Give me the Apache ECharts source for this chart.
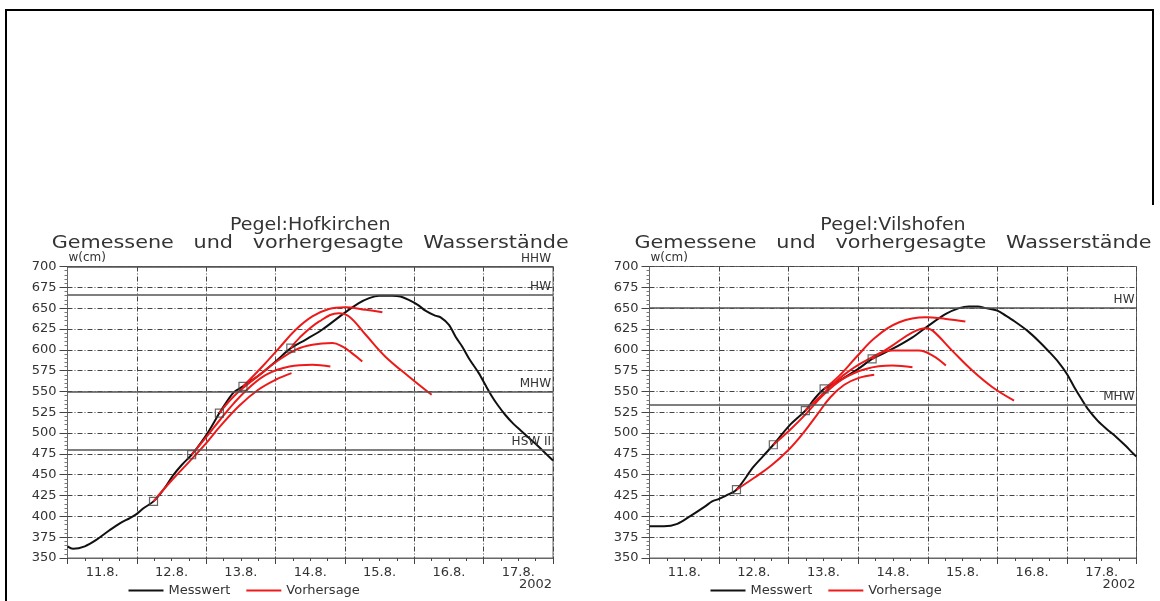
<!DOCTYPE html>
<html><head><meta charset="utf-8">
<script src="https://cdn.jsdelivr.net/npm/echarts@6/dist/echarts.min.js"></script>
<style>html,body{margin:0;padding:0;background:#fff}#c{width:1160px;height:601px}</style>
</head><body><div id="c"></div>
<script>
// ---------------- DATA ----------------
const dayLabels = ['11.8.', '12.8.', '13.8.', '14.8.', '15.8.', '16.8.', '17.8.'];
const yMin = 350, yMax = 700, yStep = 25;
const yearLabel = '2002';
const legendNames = ['Messwert', 'Vorhersage'];
const stationNames = ['Pegel:Hofkirchen', 'Pegel:Vilshofen'];
const subtitleText = 'Gemessene   und   vorhergesagte   Wasserstände';
const yAxisName = 'w(cm)';

// time in days since 11.8. 00:00, water level in cm
const hofMesswert = [[0,364],[0.08,361],[0.25,364],[0.42,372],[0.6,383],[0.76,392],[0.9,398],[1.0,403],[1.1,410],[1.24,418],[1.4,434],[1.52,449],[1.65,462],[1.79,474],[1.92,488],[2.05,504],[2.19,524],[2.29,537],[2.4,549],[2.53,556],[2.65,563],[2.77,570],[3.0,586],[3.22,602],[3.43,612],[3.67,624],[3.99,644],[4.2,656],[4.35,662],[4.49,665],[4.68,665],[4.8,664],[4.92,660],[5.05,654],[5.16,647],[5.3,641],[5.38,639],[5.5,630],[5.6,615],[5.69,604],[5.8,588],[5.93,572],[6.03,557],[6.12,544],[6.2,534],[6.31,522],[6.43,511],[6.55,502],[6.67,493],[6.79,484],[6.9,475],[7.0,467]];
const hofVorhersage1 = [[1.24,418],[1.5,443],[1.76,466],[2.0,488],[2.2,508],[2.48,533],[2.75,552],[3.0,564],[3.23,572]];
const hofVorhersage2 = [[1.79,474],[2.0,495],[2.2,516],[2.4,536],[2.6,553],[2.86,570],[3.2,580],[3.53,582],[3.79,580]];
const hofVorhersage3 = [[2.19,524],[2.35,540],[2.5,552],[2.8,572],[3.0,585],[3.29,600],[3.53,606],[3.82,608],[3.96,604],[4.1,596],[4.25,586]];
const hofVorhersage4 = [[2.53,556],[2.81,580],[3.05,602],[3.29,624],[3.53,640],[3.77,649],[4.0,651],[4.3,648],[4.54,645]];
const hofVorhersage5 = [[3.22,602],[3.34,614],[3.63,634],[3.91,644],[4.06,640],[4.3,618],[4.58,592],[4.92,568],[5.25,546]];
const hofRefNames = ['HHW', 'HW', 'MHW', 'HSW II'];
const hofRefValues = [700, 666, 550, 480];

const vilMesswert = [[0,388],[0.21,388],[0.4,391],[0.58,400],[0.8,412],[0.9,418],[1.0,421],[1.1,425],[1.25,432],[1.49,459],[1.63,472],[1.78,486],[2.01,509],[2.24,527],[2.37,541],[2.51,553],[2.73,563],[3.0,577],[3.2,589],[3.49,601],[3.78,615],[4.01,629],[4.26,643],[4.45,650],[4.59,652],[4.72,652],[4.83,650],[5.0,647],[5.12,641],[5.25,634],[5.43,623],[5.6,610],[5.74,598],[5.88,585],[6.0,571],[6.1,556],[6.2,542],[6.3,529],[6.44,515],[6.57,505],[6.7,496],[6.84,485],[6.97,474],[7.0,472]];
const vilVorhersage1 = [[1.25,432],[1.5,446],[1.75,461],[2.0,480],[2.2,499],[2.4,521],[2.6,543],[2.8,558],[3.0,566],[3.23,570]];
const vilVorhersage2 = [[1.78,486],[2.01,503],[2.25,523],[2.49,545],[2.78,565],[3.11,577],[3.49,581],[3.78,579]];
const vilVorhersage3 = [[2.24,527],[2.49,547],[2.78,569],[3.11,587],[3.49,599],[3.87,599],[4.07,593],[4.26,581]];
const vilVorhersage4 = [[2.51,553],[2.73,569],[2.97,591],[3.25,615],[3.59,633],[3.97,639],[4.26,637],[4.54,634]];
const vilVorhersage5 = [[3.2,589],[3.49,605],[3.78,621],[3.97,626],[4.07,623],[4.35,599],[4.64,575],[4.93,555],[5.24,539]];
const vilRefNames = ['HW', 'MHW'];
const vilRefValues = [650, 534];

// ---------------- LAYOUT / STYLE ----------------
const FONT = 'DejaVu Sans';
const TXT = '#333';
const GRID_TOP = 266.5, GRID_H = 291.5;
const panels = [
  { left: 67.5, width: 485.5, mess: hofMesswert,
    fc: [hofVorhersage1, hofVorhersage2, hofVorhersage3, hofVorhersage4, hofVorhersage5],
    refN: hofRefNames, refV: hofRefValues, title: stationNames[0] },
  { left: 649.5, width: 487, mess: vilMesswert,
    fc: [vilVorhersage1, vilVorhersage2, vilVorhersage3, vilVorhersage4, vilVorhersage5],
    refN: vilRefNames, refV: vilRefValues, title: stationNames[1] }
];
const GRIDLINE = { color: '#444', width: 1, type: [5, 2, 1, 2] };

const grid = [], xAxis = [], yAxis = [], series = [], legend = [], graphic = [];
panels.forEach((p, i) => {
  grid.push({ left: p.left, top: GRID_TOP, width: p.width, height: GRID_H,
    show: true, borderColor: '#666', borderWidth: 1, backgroundColor: 'transparent' });
  xAxis.push({ type: 'value', gridIndex: i, min: 0, max: dayLabels.length, interval: 1,
    position: 'bottom',
    axisLine: { onZero: false, lineStyle: { color: '#666' } },
    axisTick: { show: true, length: 6, lineStyle: { color: '#444' } },
    minorTick: { show: true, splitNumber: 4, length: 3, lineStyle: { color: '#444' } },
    axisLabel: { show: false },
    splitLine: { show: true, lineStyle: GRIDLINE } });
  xAxis.push({ type: 'category', gridIndex: i, data: dayLabels, boundaryGap: true,
    position: 'bottom',
    axisLine: { show: false, onZero: false }, axisTick: { show: false }, splitLine: { show: false },
    axisLabel: { interval: 0, margin: 8, fontFamily: FONT, fontSize: 13, color: TXT } });
  yAxis.push({ type: 'value', gridIndex: i, min: yMin, max: yMax, interval: yStep,
    name: yAxisName, nameLocation: 'end', nameGap: 3,
    nameTextStyle: { align: 'left', fontFamily: FONT, fontSize: 12, color: TXT, padding: [0, 0, 0, 1] },
    axisLine: { show: true, lineStyle: { color: '#666' } },
    axisTick: { show: true, length: 8, lineStyle: { color: '#444' } },
    minorTick: { show: true, splitNumber: 5, length: 3, lineStyle: { color: '#777' } },
    axisLabel: { margin: 11, fontFamily: FONT, fontSize: 13, color: TXT },
    splitLine: { show: true, lineStyle: GRIDLINE } });

  series.push({ name: legendNames[0], type: 'line', xAxisIndex: i * 2, yAxisIndex: i,
    data: p.mess, symbol: 'none', smooth: 0.3, z: 3,
    lineStyle: { color: '#111', width: 2 }, itemStyle: { color: '#111' },
    markLine: { silent: true, symbol: 'none', animation: false,
      lineStyle: { color: '#555', width: 1.5, type: 'solid' },
      label: { position: 'insideEndTop', formatter: '{b}', color: TXT, fontFamily: FONT, fontSize: 12, distance: [2, 2] },
      data: p.refN.map((n, k) => ({ name: n, yAxis: p.refV[k] })) } });
  p.fc.forEach(f => {
    series.push({ name: legendNames[1], type: 'line', xAxisIndex: i * 2, yAxisIndex: i,
      data: f, symbol: 'none', smooth: 0.4, z: 4,
      lineStyle: { color: '#ee1a1a', width: 2 }, itemStyle: { color: '#ee1a1a' } });
  });
  series.push({ name: 'Start', type: 'scatter', xAxisIndex: i * 2, yAxisIndex: i,
    data: p.fc.map(f => f[0]), symbol: 'rect', symbolSize: 8, z: 5,
    itemStyle: { color: 'rgba(255,255,255,0)', borderColor: '#444', borderWidth: 1.2 } });

  legend.push({ data: legendNames, left: p.left + 56, top: 579, itemWidth: 35, itemHeight: 14,
    itemGap: 16, selectedMode: false, icon: 'path://M0,6 L35,6 L35,8 L0,8 Z',
    textStyle: { fontFamily: FONT, fontSize: 13, color: TXT } });

  const cx = p.left + p.width / 2;
  graphic.push({ type: 'text', x: cx, y: 226, scaleX: 1.12,
    style: { text: p.title, x: 0, y: 0, textAlign: 'center', textVerticalAlign: 'middle',
      font: '17px "' + FONT + '"', fill: TXT } });
  graphic.push({ type: 'text', x: cx, y: 244, scaleX: 1.22,
    style: { text: subtitleText, x: 0, y: 0, textAlign: 'center', textVerticalAlign: 'middle',
      font: '17px "' + FONT + '"', fill: TXT } });
  graphic.push({ type: 'text', x: p.left + p.width - 1, y: 585,
    style: { text: yearLabel, x: 0, y: 0, textAlign: 'right', textVerticalAlign: 'middle',
      font: '13px "' + FONT + '"', fill: TXT } });
});
// page frame
graphic.push({ type: 'line', shape: { x1: 6, y1: 10, x2: 6, y2: 601 }, style: { stroke: '#000', lineWidth: 2 } });
graphic.push({ type: 'line', shape: { x1: 5, y1: 10, x2: 1153, y2: 10 }, style: { stroke: '#000', lineWidth: 2 } });
graphic.push({ type: 'line', shape: { x1: 1153, y1: 9, x2: 1153, y2: 205 }, style: { stroke: '#000', lineWidth: 2 } });

const chart = echarts.init(document.getElementById('c'), null, { renderer: 'canvas' });
chart.setOption({
  animation: false,
  backgroundColor: '#fff',
  textStyle: { fontFamily: FONT },
  grid, xAxis, yAxis, series, legend, graphic
});
</script></body></html>
